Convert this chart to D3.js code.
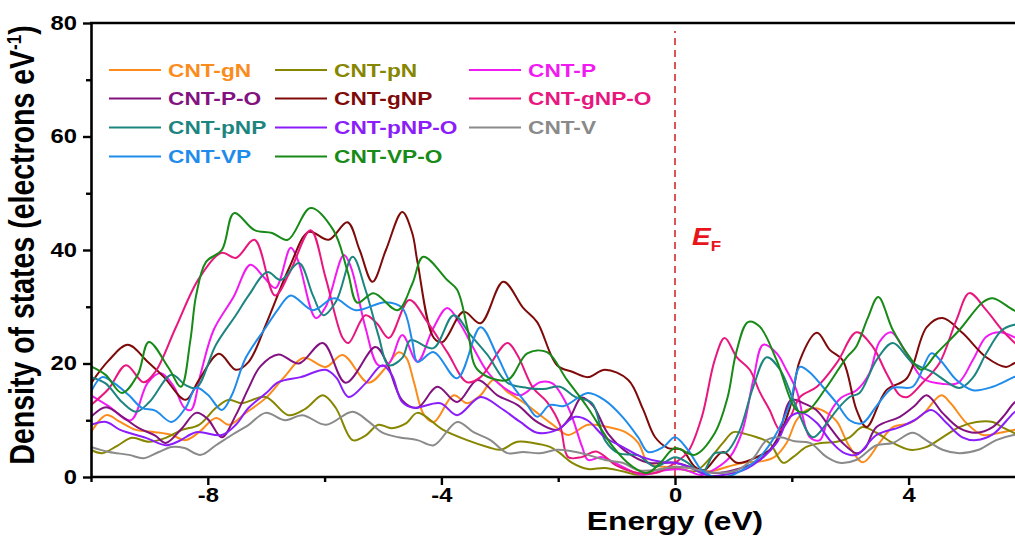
<!DOCTYPE html>
<html>
<head>
<meta charset="utf-8">
<script src="https://cdn.jsdelivr.net/npm/d3@7.9.0/dist/d3.min.js"></script>
<style>
  body { margin: 0; background: #fff; }
  svg { display: block; font-family: 'Liberation Sans', Arial, sans-serif; font-weight: bold; }
</style>
</head>
<body>
<svg id="chart" width="1015" height="554"></svg>
<script>
// ─── Data: [energy (eV), DOS (electrons/eV)] ─────────────────────────────────
const seriesNames = ['CNT-gN', 'CNT-pN', 'CNT-P', 'CNT-P-O', 'CNT-gNP', 'CNT-gNP-O',
                     'CNT-pNP', 'CNT-pNP-O', 'CNT-V', 'CNT-VP', 'CNT-VP-O'];
const seriesColors = ['#fb8c1c', '#868600', '#f21af2', '#82127f', '#7e0a0a', '#e8177f',
                      '#1d8580', '#8b1dfa', '#8a8a8a', '#1f8ceb', '#178a17'];

const gN = [[-10,7.9],[-9.74,10.9],[-9.5,9.7],[-9.23,8.3],[-8.9,7.9],[-8.62,7.4],[-8.38,6.5],[-8.15,7.9],[-7.86,10.4],[-7.64,9.2],[-7.35,11.3],[-7.01,13.9],[-6.7,17.5],[-6.36,21],[-5.98,19.4],[-5.69,21.5],[-5.25,16.6],[-4.96,19.2],[-4.73,22],[-4.6,21],[-4.47,16.7],[-4.3,11],[-4.13,9.7],[-3.79,14.4],[-3.56,13],[-3.33,14.4],[-3.11,17.1],[-2.87,15],[-2.6,13.2],[-2.31,10.9],[-2.09,9.2],[-1.83,7.4],[-1.49,9.2],[-1.15,8.8],[-0.85,7.9],[-0.63,6],[-0.46,2.5],[-0.2,1.8],[0,1.8],[0.3,1.5],[0.6,1.0],[0.9,1.8],[1.17,2.5],[1.5,2.8],[1.7,3.5],[1.91,6],[2.08,10],[2.25,11.8],[2.42,12.1],[2.6,11.3],[2.77,9.8],[2.99,5.3],[3.22,2.6],[3.5,6],[3.73,8.8],[4.02,9.5],[4.24,11],[4.56,14.4],[4.72,13],[4.99,9.5],[5.27,7.4],[5.56,7.8],[5.8,8.3],[6,8.6]];
const pN = [[-10,4.8],[-9.81,4.2],[-9.55,5.5],[-9.3,6.9],[-9.01,6.2],[-8.72,6.9],[-8.44,8.3],[-8.15,9.2],[-7.86,12.2],[-7.64,13.6],[-7.42,13],[-7.01,14.1],[-6.62,10.9],[-6.33,12],[-6.03,14.4],[-5.81,12.2],[-5.52,6.5],[-5.3,7.3],[-5.08,9.2],[-4.85,8.6],[-4.6,9.5],[-4.41,11.3],[-3.97,8.3],[-3.56,6.5],[-3.21,5.3],[-2.99,4.8],[-2.7,6.2],[-2.43,6.0],[-2.14,5.3],[-1.97,4.2],[-1.76,2.5],[-1.49,1.4],[-1.2,1.6],[-0.9,1.0],[-0.63,0.4],[-0.34,1.2],[0,1.6],[0.34,1.0],[0.6,3.3],[0.82,6],[1,7.9],[1.2,7.6],[1.4,7],[1.62,6],[1.85,2.5],[2.02,3.5],[2.25,5.3],[2.5,6],[2.77,6.2],[2.99,7],[3.21,8.8],[3.45,7.8],[3.73,6],[4.02,4.8],[4.31,5.3],[4.58,7],[4.87,8.8],[5.16,9.7],[5.44,9.7],[5.6,8.8],[5.8,7.8],[6,7.2]];
const P = [[-10,14.4],[-9.7,12.5],[-9.32,10],[-9.03,16.6],[-8.8,18.3],[-8.58,15.9],[-8.41,12.3],[-8.29,11.8],[-8.12,18.3],[-7.9,25.9],[-7.56,31.7],[-7.27,37.4],[-7.04,35.2],[-6.84,33.3],[-6.58,40.4],[-6.45,38],[-6.15,28],[-5.98,30],[-5.67,39.1],[-5.55,37],[-5.3,26.3],[-5.08,19.7],[-4.9,20],[-4.67,25],[-4.41,20.3],[-4.15,26],[-3.9,29.8],[-3.68,27],[-3.45,22.7],[-3.21,18.5],[-2.99,16.2],[-2.65,14.4],[-2.31,16.7],[-2.1,16.5],[-1.83,12.3],[-1.59,5.3],[-1.49,3],[-1.25,3.5],[-0.9,1.8],[-0.56,0.4],[-0.17,1.2],[0.15,1.3],[0.46,0.35],[0.7,1.5],[0.94,3.5],[1.15,8],[1.34,17.1],[1.51,23.3],[1.74,21.8],[1.9,19],[2.08,15.3],[2.31,7],[2.48,6.5],[2.65,11.3],[2.85,14],[3.11,15.3],[3.33,18.3],[3.5,23.8],[3.7,25.5],[3.95,22],[4.24,17.4],[4.6,16.4],[4.85,16.6],[5.1,20.6],[5.33,24.7],[5.56,25.5],[5.8,24.7],[6,23.5]];
const PO = [[-10,10.6],[-9.74,12.3],[-9.45,10.5],[-9.18,8.6],[-8.9,7.3],[-8.72,6],[-8.45,8.5],[-8.2,11.3],[-8.0,10.2],[-7.76,7],[-7.52,10.9],[-7.3,15.7],[-7.1,19.5],[-6.79,21.6],[-6.44,20],[-6.03,23.6],[-5.64,16.6],[-5.13,22.9],[-4.95,20.5],[-4.67,13.5],[-4.41,12.2],[-4.07,15.9],[-3.73,13.2],[-3.38,17.1],[-3.04,14.4],[-2.7,12.7],[-2.36,9.7],[-2.02,8.3],[-1.8,10.5],[-1.6,14],[-1.4,12.5],[-1.15,7.7],[-0.8,4.2],[-0.46,2.5],[0,2.5],[0.4,1.3],[0.7,0.7],[1.0,1.2],[1.45,3],[1.74,6.5],[1.99,13.6],[2.2,13],[2.42,11.8],[2.65,8.8],[2.87,6],[3.11,4.2],[3.25,5],[3.45,8.8],[3.85,10.6],[4.1,12.5],[4.31,14.4],[4.58,11.3],[4.87,8.6],[5.16,7.8],[5.44,8.8],[5.65,11],[5.8,13],[6,14.5]];
const gNP = [[-10,16.5],[-9.7,20.5],[-9.37,23.3],[-9.03,20.3],[-8.75,17.6],[-8.38,13.6],[-8.15,17.1],[-7.81,21.7],[-7.52,18.9],[-7.3,20.3],[-7.0,27],[-6.6,37],[-6.27,43.2],[-5.93,41.8],[-5.61,44.9],[-5.4,40],[-5.18,34.4],[-4.95,40],[-4.67,46.7],[-4.5,43],[-4.41,37.9],[-4.13,24.5],[-3.98,23.8],[-3.62,29.1],[-3.33,27.1],[-2.94,34.4],[-2.6,29.8],[-2.36,27.3],[-2.02,19.7],[-1.75,18.5],[-1.49,17.6],[-1.2,18.9],[-0.8,17.1],[-0.55,12],[-0.34,7],[-0.12,5.1],[0.12,4.8],[0.34,1.8],[0.5,1.2],[0.82,4.4],[1.06,2.5],[1.4,3.5],[1.68,5.3],[1.97,12.3],[2.14,20.6],[2.43,25.4],[2.65,22.4],[2.87,20.6],[3.11,11.8],[3.28,8.8],[3.62,15.3],[3.97,17.4],[4.31,26.4],[4.58,28],[4.92,25.4],[5.33,21.1],[5.67,19.4],[5.8,20],[6,21]];
const gNPO = [[-10,12.7],[-9.7,15.5],[-9.4,19.7],[-9.1,16.7],[-8.9,18.5],[-8.55,26.3],[-8.15,35],[-7.76,39.5],[-7.52,38.6],[-7.2,41.8],[-6.85,32],[-6.6,36],[-6.24,43.5],[-5.98,35],[-5.69,24.5],[-5.59,23.6],[-5.3,28.5],[-5.1,27],[-4.9,24.5],[-4.55,31.2],[-4.24,27.3],[-3.9,22],[-3.56,16.7],[-3.33,17.6],[-2.87,23.6],[-2.7,21.5],[-2.43,15.7],[-2.19,13.2],[-1.97,9.2],[-1.83,3.5],[-1.6,3.5],[-1.35,4.5],[-1.0,2.0],[-0.63,0.7],[-0.3,0.8],[0,2.5],[0.22,4.4],[0.46,10.6],[0.68,20.6],[0.85,24.5],[1.06,21.1],[1.28,18.9],[1.45,15],[1.62,11.8],[1.8,8.3],[1.97,10.5],[2.14,14.1],[2.43,15.9],[2.77,20.1],[3.11,25.5],[3.39,22.9],[3.62,18.3],[3.85,14.4],[3.98,14.1],[4.24,16.6],[4.53,20.1],[4.82,27.7],[5.04,32.4],[5.33,29.4],[5.6,25.9],[5.8,23.8],[6,22]];
const pNP = [[-10,17.6],[-9.75,16.5],[-9.47,13.2],[-9.23,11.5],[-9.0,13.2],[-8.62,18],[-8.38,16.2],[-8.2,15.7],[-7.86,23.3],[-7.52,28.5],[-7.3,32],[-6.98,36.1],[-6.75,34.7],[-6.44,37.7],[-6.2,32],[-6.02,28.5],[-5.8,31],[-5.52,38.8],[-5.3,33],[-5.08,25],[-4.9,19.7],[-4.67,21],[-4.53,24.1],[-4.14,22.7],[-3.79,28.5],[-3.5,25],[-3.21,21.5],[-2.87,16.6],[-2.53,15.7],[-2.25,15.5],[-1.97,15.9],[-1.71,14.1],[-1.42,13],[-1.2,6.5],[-0.97,4.2],[-0.63,3.8],[-0.34,1.8],[0,3.5],[0.22,2.5],[0.46,0.7],[0.68,4.2],[0.88,4.4],[1.1,8],[1.34,15.9],[1.57,21.1],[1.8,18.9],[2.05,13],[2.36,7],[2.6,9.5],[2.77,11.8],[2.99,14.1],[3.16,14.8],[3.45,20.6],[3.73,23.6],[4.07,20.1],[4.41,18.5],[4.87,15.7],[5.1,17.5],[5.33,21.8],[5.6,25.9],[5.8,26.8],[6,27]];
const pNPO = [[-10,9.2],[-9.74,9.7],[-9.5,8.3],[-9.06,6.9],[-8.72,5.6],[-8.5,6.3],[-8.2,7.9],[-7.76,7.4],[-7.52,9.2],[-7.3,12.2],[-7.0,14.8],[-6.79,16.7],[-6.41,17.6],[-5.98,18.9],[-5.8,17.5],[-5.59,14.1],[-5.3,16.5],[-5.01,19.7],[-4.85,18],[-4.67,13.2],[-4.47,12.2],[-4.02,13],[-3.73,10.9],[-3.33,14.1],[-2.99,12.2],[-2.65,9.7],[-2.36,7.8],[-2.02,8.3],[-1.71,10.6],[-1.5,10],[-1.2,7],[-0.9,5.3],[-0.56,3.5],[-0.2,2.6],[0,2.5],[0.3,1.5],[0.6,0.2],[0.9,0.5],[1.17,1.2],[1.51,3.5],[1.74,6],[1.97,10.6],[2.17,11.3],[2.43,9.5],[2.65,6.5],[2.87,4.4],[3.11,3.9],[3.45,7.4],[3.85,8.8],[4.1,10],[4.39,11.8],[4.65,9.5],[4.92,7],[5.16,6.5],[5.44,7.5],[5.8,11.3],[6,13]];
const V = [[-10,5.3],[-9.69,4.4],[-9.35,3.9],[-9.1,3.3],[-8.84,4.4],[-8.62,5.3],[-8.4,5.1],[-8.12,3.9],[-7.86,5.6],[-7.59,7.4],[-7.3,9.2],[-7.01,11.3],[-6.67,10],[-6.38,10.9],[-5.98,9.2],[-5.52,11.5],[-5.25,9.8],[-5.01,7.8],[-4.73,7],[-4.41,6.5],[-4.13,5.6],[-3.73,9.7],[-3.45,7.9],[-3.16,6.5],[-2.87,4.2],[-2.6,4.4],[-2.31,4.2],[-2.02,4.8],[-1.75,4.5],[-1.49,3.9],[-1.2,3],[-0.9,2.5],[-0.63,1.2],[-0.34,1.2],[0,1.8],[0.3,1.5],[0.6,0.8],[1.06,1.2],[1.34,3.3],[1.57,6.5],[1.8,7],[2.05,6.3],[2.31,6],[2.6,3.5],[2.82,2.5],[3.1,3],[3.45,5.6],[3.73,6],[4.07,7.8],[4.3,6.5],[4.58,4.8],[4.87,4.2],[5.2,4.8],[5.5,6.5],[5.8,7.4],[6,7.6]];
const VP = [[-10,15],[-9.81,17.6],[-9.6,16.5],[-9.35,14.4],[-9.13,12.2],[-8.9,11.7],[-8.62,9.7],[-8.38,12.2],[-8.2,15.7],[-8.0,14.5],[-7.76,11.8],[-7.59,14.4],[-7.35,21],[-7.01,26.3],[-6.8,29.5],[-6.58,32],[-6.2,29.4],[-5.84,31.5],[-5.47,29.4],[-4.96,30.8],[-4.67,29.8],[-4.5,24],[-4.41,20.3],[-4.13,22],[-3.73,17.4],[-3.33,26.4],[-3.05,21.5],[-2.82,16.7],[-2.55,13],[-2.36,10.6],[-2.14,12.7],[-1.9,12.5],[-1.49,14.8],[-1.2,13.5],[-0.9,10.6],[-0.63,7],[-0.46,4.4],[-0.2,5.3],[0,7],[0.22,4.8],[0.46,1.2],[0.68,0],[0.88,0],[1.15,1.2],[1.45,3.5],[1.7,7],[1.97,13],[2.14,19.4],[2.3,18.5],[2.53,15.9],[2.77,13],[2.99,10],[3.21,9.5],[3.45,12.5],[3.73,15.7],[4.07,15.9],[4.39,21.8],[4.55,20.5],[4.82,17.1],[5.1,15.3],[5.44,15.9],[5.8,17.6],[6,18.5]];
const VPO = [[-10,19.5],[-9.75,18],[-9.47,14.8],[-9.2,18],[-9.01,23.8],[-8.67,19.2],[-8.46,15.9],[-8.3,24],[-8.2,32],[-8.03,37.9],[-7.76,40],[-7.55,46.5],[-7.2,43.5],[-6.9,43],[-6.63,41.8],[-6.24,47.4],[-5.85,43.5],[-5.6,36],[-5.44,30.7],[-5.16,32.4],[-4.75,29.4],[-4.5,34],[-4.31,38.8],[-3.9,34.7],[-3.73,33],[-3.55,26],[-3.38,18.9],[-2.87,17.1],[-2.53,21.8],[-2.19,22],[-1.85,17.1],[-1.5,12.3],[-1.06,5.3],[-0.75,2],[-0.48,0.7],[-0.25,2.5],[0,5.1],[0.34,3.9],[0.68,7.7],[0.9,14],[1.05,22],[1.25,27.3],[1.45,26.5],[1.74,20.6],[2.08,11.8],[2.25,11.5],[2.6,15.9],[2.94,21.1],[3.1,22.9],[3.3,28],[3.48,31.7],[3.73,25.9],[4.02,21.1],[4.22,18.9],[4.48,21.8],[4.87,25.9],[5.27,30.8],[5.44,31.5],[5.8,29.4],[6,28.5]];

const seriesValues = [gN, pN, P, PO, gNP, gNPO, pNP, pNPO, V, VP, VPO];

const xTicks = [-10, -8, -6, -4, -2, 0, 2, 4];
const xLabels = [-8, -4, 0, 4];
const yTicks = [0, 10, 20, 30, 40, 50, 60, 70, 80];
const yLabels = [0, 20, 40, 60, 80];

// ─── Layout ──────────────────────────────────────────────────────────────────
const svg = d3.select('#chart');
const plot = { left: 91, top: 23, bottom: 477, right: 1015 };
const stretch = 1.22; // the figure's text is wider than plain Arial

const x = d3.scaleLinear().domain([-10, 6]).range([plot.left, plot.left + 16 * 58.4]);
const y = d3.scaleLinear().domain([0, 80]).range([plot.bottom, plot.top]);

svg.append('clipPath').attr('id', 'clip')
    .append('rect')
    .attr('x', plot.left).attr('y', plot.top)
    .attr('width', plot.right - plot.left).attr('height', plot.bottom - plot.top);

// Fermi level marker
svg.append('line')
    .attr('x1', x(0)).attr('x2', x(0))
    .attr('y1', y(0)).attr('y2', 31)
    .attr('stroke', '#d42a2a').attr('stroke-width', 1.6)
    .attr('stroke-dasharray', '7,5');

// ─── Curves ──────────────────────────────────────────────────────────────────
const line = d3.line()
    .x(d => x(d[0]))
    .y(d => y(d[1]))
    .curve(d3.curveCatmullRom.alpha(0.5));

const curves = svg.append('g').attr('clip-path', 'url(#clip)');
seriesValues.forEach((vals, i) => {
    curves.append('path')
        .attr('d', line(vals))
        .attr('fill', 'none')
        .attr('stroke', seriesColors[i])
        .attr('stroke-width', 2)
        .attr('stroke-linejoin', 'round');
});

// ─── Axes ────────────────────────────────────────────────────────────────────
const xAxis = svg.append('g')
    .attr('transform', `translate(0,${plot.bottom})`)
    .call(d3.axisBottom(x).tickValues(xTicks).tickSize(8).tickPadding(3).tickSizeOuter(0)
        .tickFormat(d => xLabels.includes(d) ? String(d) : ''));
xAxis.select('.domain').attr('d', `M${plot.left},0H${plot.right + 10}`);

const yAxis = svg.append('g')
    .attr('transform', `translate(${plot.left},0)`)
    .call(d3.axisLeft(y).tickValues(yTicks).tickSize(8).tickPadding(6).tickSizeOuter(0)
        .tickFormat(d => yLabels.includes(d) ? String(d) : ''));

[xAxis, yAxis].forEach(ax => {
    ax.attr('font-family', null).attr('font-size', 19.5);
    ax.select('.domain').attr('stroke', '#000').attr('stroke-width', 2.6);
    ax.selectAll('.tick line').attr('stroke', '#000').attr('stroke-width', 2.4);
    ax.selectAll('.tick text').attr('fill', '#000');
});
xAxis.selectAll('.tick line').attr('y2', d => xLabels.includes(d) ? 8 : 5);
xAxis.selectAll('.tick text').attr('transform', `scale(${stretch},1)`);
yAxis.selectAll('.tick line').attr('x2', d => yLabels.includes(d) ? -8 : -5);
yAxis.selectAll('.tick text')
    .attr('x', -14 / stretch)
    .attr('transform', `scale(${stretch},1)`);

// top frame line
svg.append('line')
    .attr('x1', plot.left - 1).attr('x2', plot.right + 10)
    .attr('y1', plot.top).attr('y2', plot.top)
    .attr('stroke', '#000').attr('stroke-width', 2.6);

// ─── Axis titles ─────────────────────────────────────────────────────────────
svg.append('text')
    .attr('transform', `translate(${x(0)},530) scale(${stretch},1)`)
    .attr('text-anchor', 'middle')
    .attr('font-size', 26)
    .text('Energy (eV)');

const yTitle = svg.append('text')
    .attr('transform', `translate(34,245) rotate(-90) scale(1,${stretch})`)
    .attr('text-anchor', 'middle')
    .attr('font-size', 28.5);
yTitle.append('tspan').text('Density of states (electrons eV');
yTitle.append('tspan').attr('font-size', 17).attr('dy', -11).text('-1');
yTitle.append('tspan').attr('dy', 11).text(')');

// E_F label
const ef = svg.append('text')
    .attr('transform', `translate(692,245) scale(${stretch},1)`)
    .attr('fill', '#e8141c')
    .attr('font-size', 23);
ef.append('tspan').attr('font-style', 'italic').text('E');
ef.append('tspan').attr('font-size', 14).attr('dy', 6).text('F');

// ─── Legend ──────────────────────────────────────────────────────────────────
const legendCols = [109, 275, 469];
const legendRows = [70, 98.5, 127.5, 156.5];
seriesNames.forEach((name, i) => {
    const cx = legendCols[i % 3];
    const cy = legendRows[Math.floor(i / 3)];
    const g = svg.append('g');
    g.append('line')
        .attr('x1', cx).attr('x2', cx + 52)
        .attr('y1', cy).attr('y2', cy)
        .attr('stroke', seriesColors[i]).attr('stroke-width', 2);
    g.append('text')
        .attr('transform', `translate(${cx + 59},${cy + 6.8}) scale(${stretch},1)`)
        .attr('fill', seriesColors[i])
        .attr('font-size', 18.6)
        .text(name);
});
</script>
</body>
</html>
